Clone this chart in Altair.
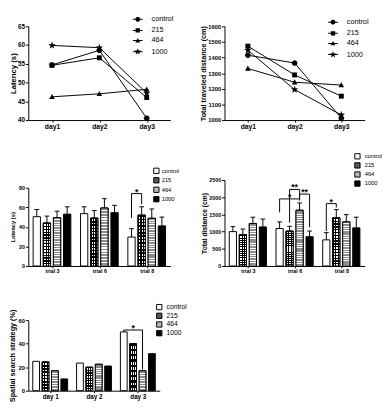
import math
import json
import altair as alt
import pandas as pd

# ---------------- data ----------------
series = ["control", "215", "464", "1000"]

days = ["day1", "day2", "day3"]
latency_control = [54.7, 58.6, 40.5]
latency_215 = [54.6, 56.6, 46.0]
latency_464 = [46.2, 47.0, 48.2]
latency_1000 = [59.9, 59.3, 47.2]

distance_control = [1415, 1365, 1012]
distance_215 = [1473, 1289, 1153]
distance_464 = [1330, 1242, 1224]
distance_1000 = [1447, 1195, 1033]

trials = ["trial 3", "trial 6", "trial 8"]
trial_latency_control = [50.4, 53.5, 29.6]
trial_latency_215 = [44.0, 49.0, 52.0]
trial_latency_464 = [49.4, 59.3, 48.8]
trial_latency_1000 = [53.0, 54.5, 41.0]
trial_latency_sem_control = [7.3, 7.0, 8.6]
trial_latency_sem_215 = [7.0, 7.7, 8.5]
trial_latency_sem_464 = [6.6, 9.5, 9.5]
trial_latency_sem_1000 = [7.5, 7.5, 9.0]

trial_distance_control = [1000, 1090, 760]
trial_distance_215 = [910, 1016, 1401]
trial_distance_464 = [1236, 1621, 1282]
trial_distance_1000 = [1136, 852, 1108]
trial_distance_sem_control = [145, 192, 210]
trial_distance_sem_215 = [163, 138, 238]
trial_distance_sem_464 = [182, 210, 211]
trial_distance_sem_1000 = [228, 164, 311]

days_spaced = ["day 1", "day 2", "day 3"]
spatial_control = [25.0, 23.5, 50.0]
spatial_215 = [24.5, 20.0, 40.0]
spatial_464 = [17.0, 22.5, 17.0]
spatial_1000 = [10.0, 21.0, 31.5]

# significance brackets: group, from-series, to-series, level, leg ends, label
sig_latency_group = [3]
sig_latency_from = ["control"]
sig_latency_to = ["215"]
sig_latency_level = [74]
sig_latency_end_from = [49]
sig_latency_end_to = [63]
sig_latency_label = ["*"]

sig_distance_group = [2, 2, 2, 3]
sig_distance_from = ["control", "215", "464", "control"]
sig_distance_to = ["464", "464", "1000", "215"]
sig_distance_level = [1950, 2225, 2090, 1813]
sig_distance_end_from = [1560, 1264, 1950, 1016]
sig_distance_end_to = [1900, 1950, 1126, 1700]
sig_distance_label = ["*", "**", "**", "*"]

sig_spatial_group = [3]
sig_spatial_from = ["control"]
sig_spatial_to = ["464"]
sig_spatial_level = [51.6]
sig_spatial_end_from = [50]
sig_spatial_end_to = [18]
sig_spatial_label = ["*"]

# ---------------- style ----------------
FONT = "Liberation Sans"
OFF = 0.214    # offset between bars within a group (x units)
HALF = 0.077   # half bar width
CAP = 0.05     # half error-cap width


def circle(r, n=18):
    pts = []
    for k in range(n):
        a = 2 * math.pi * k / n
        pts.append(f"{r * math.cos(a):.3f},{r * math.sin(a):.3f}")
    return "M" + "L".join(pts) + "Z"


def square(s):
    return f"M{-s},{-s}H{s}V{s}H{-s}Z"


def triangle(s):
    return f"M0,{-s}L{0.95 * s:.3f},{0.75 * s:.3f}L{-0.95 * s:.3f},{0.75 * s:.3f}Z"


def star(R, r):
    pts = []
    for k in range(10):
        a = math.radians(-90 + 36 * k)
        rad = R if k % 2 == 0 else r
        pts.append(f"{rad * math.cos(a):.3f},{rad * math.sin(a):.3f}")
    return "M" + "L".join(pts) + "Z"


PLOT_SHAPES = [circle(0.95), square(0.85), triangle(1.0), star(1.35, 0.55)]
SEG = "M-2,-0.2H2V0.2H-2Z"
LEG_SHAPES = [SEG + circle(1.0), SEG + square(0.9), SEG + triangle(1.05), SEG + star(1.45, 0.6)]


def stripes(n, c_line, c_gap, frac, horizontal=True):
    stops = []
    for i in range(n):
        a, b, c = i / n, (i + frac) / n, (i + 1) / n
        stops += [{"offset": a, "color": c_line}, {"offset": b, "color": c_line},
                  {"offset": b, "color": c_gap}, {"offset": c, "color": c_gap}]
    if horizontal:
        return {"gradient": "linear", "x1": 0, "y1": 0, "x2": 0, "y2": 1, "stops": stops}
    return {"gradient": "linear", "x1": 0, "y1": 0, "x2": 1, "y2": 0, "stops": stops}


def x_axis(labels, fs):
    return alt.Axis(values=[1, 2, 3], labelExpr=json.dumps(labels) + "[datum.value - 1]",
                    title=None, tickSize=2, labelFontSize=fs, labelPadding=1)


def y_axis(vals, title, tfs, lfs, tpad, ext):
    return alt.Axis(values=vals, title=title, titleFontSize=tfs, labelFontSize=lfs, format="d",
                    tickSize=3, labelPadding=1, titlePadding=tpad, minExtent=ext, maxExtent=ext)


def long_frame(lists):
    rows = []
    for si, s in enumerate(series):
        for gi, v in enumerate(lists[si]):
            rows.append({"series": s, "si": si, "g": gi + 1, "v": v})
    return pd.DataFrame(rows)


def line_panel(lists, ydom, yvals, title, w, h, legx, legy, tfs, lfs, xfs, tpad, ext):
    df = long_frame(lists)
    xs = alt.Scale(domain=[0.5, 3.5], nice=False, zero=False)
    ys = alt.Scale(domain=ydom, nice=False, zero=False)
    X = alt.X("g:Q", scale=xs, axis=x_axis(days, xfs))
    Y = alt.Y("v:Q", scale=ys, axis=y_axis(yvals, title, tfs, lfs, tpad, ext))
    base = alt.Chart(df)
    lines = base.mark_line(color="black", strokeWidth=1).encode(x=X, y=Y, detail="series:N")
    pts = base.mark_point(filled=True, fill="black", stroke="black", strokeWidth=0,
                          size=36, opacity=1).encode(
        x=X, y=Y,
        shape=alt.Shape("series:N", scale=alt.Scale(domain=series, range=PLOT_SHAPES), legend=None))
    leg = base.mark_point(filled=True, fill="black", size=25, opacity=0).encode(
        x=X, y=Y,
        shape=alt.Shape("series:N", scale=alt.Scale(domain=series, range=LEG_SHAPES),
                        legend=alt.Legend(title=None, orient="none", legendX=legx, legendY=legy,
                                          labelFont=FONT, labelFontSize=7.5, labelColor="black",
                                          labelOffset=10.5, rowPadding=-0.5, padding=0,
                                          symbolSize=25, symbolOpacity=1,
                                          symbolFillColor="black")))
    return alt.layer(lines, pts, leg).resolve_scale(shape="independent").properties(width=w, height=h)


def bar_panel(means, sems, cats, sig, ydom, yvals, title, w, h, top, legx, legy, legfs, legpad,
              leglo, tfs, lfs, xfs, tpad, ext, n215, n464):
    df = long_frame(means)
    df["sem"] = long_frame(sems)["v"] if sems else 0.0
    g, fr, to, lev, ea, eb, lab = sig
    br = pd.DataFrame({"g": g, "a": [series.index(s) for s in fr], "b": [series.index(s) for s in to],
                       "level": lev, "ea": ea, "eb": eb, "label": lab})
    xs = alt.Scale(domain=[0.5, 3.5], nice=False, zero=False)
    ys = alt.Scale(domain=ydom, range=[h, top], nice=False, zero=False)
    xa = x_axis(cats, xfs)
    ya = y_axis(yvals, title, tfs, lfs, tpad, ext)

    def X(f):
        return alt.X(f + ":Q", scale=xs, axis=xa)

    def Y(f):
        return alt.Y(f + ":Q", scale=ys, axis=ya)

    base = alt.Chart(df).transform_calculate(
        xc=f"datum.g + (datum.si - 1.5) * {OFF}",
    ).transform_calculate(
        x1=f"datum.xc - {HALF}", x2=f"datum.xc + {HALF}",
        c1=f"datum.xc - {CAP}", c2=f"datum.xc + {CAP}",
        up="datum.v + datum.sem", zero="0",
    )
    bars = base.mark_rect(stroke="black", strokeWidth=1).encode(
        x=X("x1"), x2="x2:Q", y=Y("v"), y2="zero:Q",
        fill=alt.Fill("series:N", scale=alt.Scale(domain=series, range=["white", "#555555", "#b8b8b8", "black"]),
                      legend=alt.Legend(title=None, orient="none", legendX=legx, legendY=legy,
                                        labelFont=FONT, labelFontSize=legfs, labelColor="black",
                                        labelOffset=leglo, rowPadding=legpad, padding=0,
                                        symbolType="square", symbolSize=30, symbolStrokeColor="black",
                                        symbolStrokeWidth=1)))
    b215 = base.transform_filter("datum.series == '215'")
    w215 = b215.mark_rect(fill="white").encode(x=X("x1"), x2="x2:Q", y=Y("v"), y2="zero:Q")
    v215 = b215.mark_rect(fill=stripes(3, "black", "rgba(0,0,0,0)", 0.45, horizontal=False)).encode(
        x=X("x1"), x2="x2:Q", y=Y("v"), y2="zero:Q")
    h215 = b215.mark_rect(fill=stripes(n215, "black", "rgba(0,0,0,0)", 0.45), stroke="black",
                          strokeWidth=1).encode(x=X("x1"), x2="x2:Q", y=Y("v"), y2="zero:Q")
    s464 = base.transform_filter("datum.series == '464'").mark_rect(
        fill=stripes(n464, "#8c8c8c", "white", 0.6), stroke="black", strokeWidth=1).encode(
        x=X("x1"), x2="x2:Q", y=Y("v"), y2="zero:Q")
    layers = [bars, w215, v215, h215, s464]
    if sems:
        stem = base.mark_rule(color="black", strokeWidth=1).encode(x=X("xc"), y=Y("v"), y2="up:Q")
        cap = base.mark_rule(color="black", strokeWidth=1).encode(x=X("c1"), x2="c2:Q", y=Y("up"))
        layers += [stem, cap]
    bb = alt.Chart(br).transform_calculate(
        xa=f"datum.g + (datum.a - 1.5) * {OFF}", xb=f"datum.g + (datum.b - 1.5) * {OFF}",
    ).transform_calculate(xm="(datum.xa + datum.xb) / 2")
    hr = bb.mark_rule(color="black", strokeWidth=1).encode(x=X("xa"), x2="xb:Q", y=Y("level"))
    la = bb.mark_rule(color="black", strokeWidth=1).encode(x=X("xa"), y=Y("level"), y2="ea:Q")
    lb = bb.mark_rule(color="black", strokeWidth=1).encode(x=X("xb"), y=Y("level"), y2="eb:Q")
    tx = bb.mark_text(font=FONT, fontSize=9, fontWeight="bold", fill="black", baseline="alphabetic",
                      dy=1).encode(x=X("xm"), y=Y("level"), text="label:N")
    layers += [hr, la, lb, tx]
    return alt.layer(*layers).properties(width=w, height=h)


panel_a = line_panel([latency_control, latency_215, latency_464, latency_1000],
                     [40, 65], [40, 45, 50, 55, 60, 65], "Latency (s)", 147, 97, 109.5, -11,
                     8, 6.5, 7, 0.5, 11)
panel_b = line_panel([distance_control, distance_215, distance_464, distance_1000],
                     [1000, 1600], [1000, 1100, 1200, 1300, 1400, 1500, 1600],
                     "Total traveled distance (cm)", 145, 97, 108.5, -8, 7.5, 6, 7, 0.5, 17)
panel_c = bar_panel([trial_latency_control, trial_latency_215, trial_latency_464, trial_latency_1000],
                    [trial_latency_sem_control, trial_latency_sem_215, trial_latency_sem_464,
                     trial_latency_sem_1000],
                    trials,
                    (sig_latency_group, sig_latency_from, sig_latency_to, sig_latency_level,
                     sig_latency_end_from, sig_latency_end_to, sig_latency_label),
                    [0, 80], [0, 20, 40, 60, 80], "Latency (s)", 147, 100, 19, 129, -2, 6, -1.2, 2,
                    6, 5.5, 5.5, 2.5, 11, 15, 20)
panel_d = bar_panel([trial_distance_control, trial_distance_215, trial_distance_464, trial_distance_1000],
                    [trial_distance_sem_control, trial_distance_sem_215, trial_distance_sem_464,
                     trial_distance_sem_1000],
                    trials,
                    (sig_distance_group, sig_distance_from, sig_distance_to, sig_distance_level,
                     sig_distance_end_from, sig_distance_end_to, sig_distance_label),
                    [0, 2500], [0, 500, 1000, 1500, 2000, 2500], "Total distance (cm)", 145, 100, 11,
                    134, -17, 6, -1.6, 4, 7, 5.5, 5.5, 1, 17, 17, 25)
panel_e = bar_panel([spatial_control, spatial_215, spatial_464, spatial_1000], None,
                    days_spaced,
                    (sig_spatial_group, sig_spatial_from, sig_spatial_to, sig_spatial_level,
                     sig_spatial_end_from, sig_spatial_end_to, sig_spatial_label),
                    [0, 60], [0, 20, 40, 60], "Spatial search strategy (%)", 136, 78, 5,
                    132, -12, 7, -2.5, 4, 7.5, 6, 6.5, 1, 11, 9, 12)

chart = alt.concat(
    panel_a, panel_b, panel_c, panel_d, panel_e,
    columns=2, spacing={"row": 51, "column": 56}, bounds="flush", align="each", padding=0,
).resolve_scale(fill="independent", shape="independent").resolve_legend(
    fill="independent", shape="independent"
).configure_view(stroke="transparent").configure_axis(
    grid=False, domainColor="black", domainWidth=1, tickColor="black", tickWidth=1,
    labelColor="black", titleColor="black", labelFont=FONT, titleFont=FONT,
    labelFontWeight="bold", titleFontWeight="bold", labelFlush=False, labelOverlap=False,
).properties(background="white")

chart.save("out.html", embed_options={"renderer": "svg", "actions": False})
